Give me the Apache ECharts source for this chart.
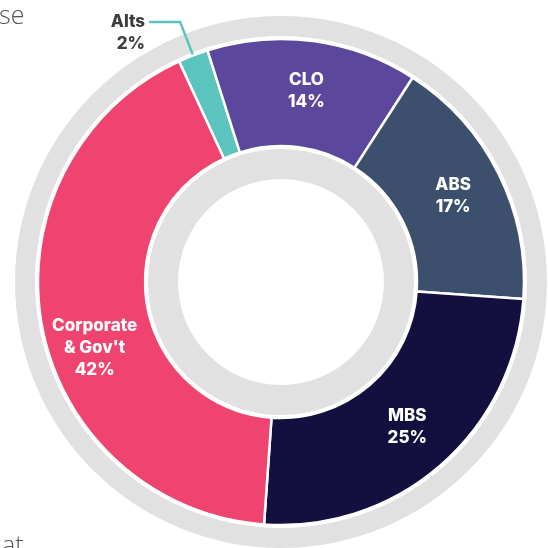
<!DOCTYPE html>
<html>
<head>
<meta charset="utf-8">
<style>
    html, body { margin: 0; padding: 0; background: #fff; }
    #chart { width: 548px; height: 548px; }
</style>
</head>
<body>
<div id="chart"></div>
<script src="https://cdn.jsdelivr.net/npm/echarts@6/dist/echarts.min.js"></script>
<script>
    // allocation data (percent)
    var categories = ['Alts', 'CLO', 'ABS', 'MBS', 'Corporate\n& Gov\'t'];
    var shares = [2, 14, 17, 25, 42];
    var colors = ['#5cc4be', '#5b479b', '#3c506e', '#130f3f', '#ef4370'];

    var chart = echarts.init(document.getElementById('chart'));

    var data = categories.map(function (name, i) {
        var item = {
            name: name,
            value: shares[i],
            itemStyle: { color: colors[i] }
        };
        if (i === 0) {
            // small slice: label outside with a leader line
            item.label = {
                position: 'outside',
                color: '#3d3d3d',
                distanceToLabelLine: 8
            };
            item.labelLine = {
                show: true,
                length: 36,
                length2: 31,
                lineStyle: { color: '#5cc4be', width: 2.5 }
            };
        }
        return item;
    });

    var center = [281, 282];

    var option = {
        animation: false,
        graphic: [
            { type: 'text', left: -1, top: 4, style: { text: 'se', font: '300 25px "Open Sans"', fill: '#555' } },
            { type: 'text', left: 2, top: 534, style: { text: 'at', font: '300 25px "Open Sans"', fill: '#555' } }
        ],
        series: [
            {
                // outer grey ring
                type: 'pie',
                silent: true,
                center: center,
                radius: [246, 266],
                label: { show: false },
                labelLine: { show: false },
                data: [{ value: 1, itemStyle: { color: '#e1e1e1' } }]
            },
            {
                // inner grey ring
                type: 'pie',
                silent: true,
                center: center,
                radius: [103, 133],
                label: { show: false },
                labelLine: { show: false },
                data: [{ value: 1, itemStyle: { color: '#e1e1e1' } }]
            },
            {
                type: 'pie',
                z: 5,
                center: center,
                radius: [136, 243],
                startAngle: 114.8,
                clockwise: true,
                itemStyle: { borderColor: '#fff', borderWidth: 2.5 },
                label: {
                    show: true,
                    position: 'inside',
                    color: '#fff',
                    fontFamily: 'Inter',
                    fontWeight: 800,
                    fontSize: 17,
                    lineHeight: 22,
                    formatter: function (p) {
                        return p.name + '\n' + p.value + '%';
                    }
                },
                labelLine: { show: false },
                labelLayout: function (p) {
                    if (p.dataIndex === 4) {
                        return { dy: 31, dx: 3 };
                    }
                    if (p.dataIndex === 0) {
                        return { dy: 11, dx: 4 };
                    }
                    return {};
                },
                data: data
            }
        ]
    };

    chart.setOption(option);
</script>
</body>
</html>
